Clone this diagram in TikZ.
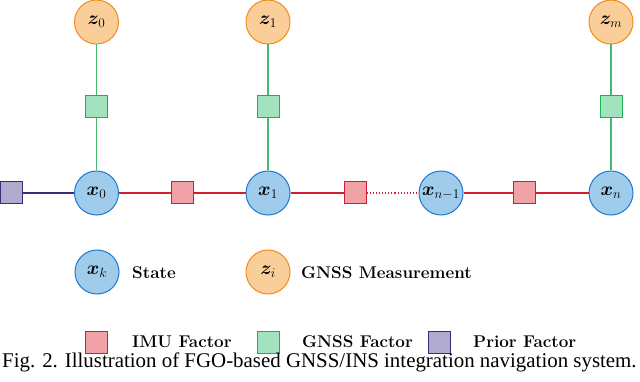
\documentclass[tikz,border=0pt]{standalone}
\usepackage{fix-cm}
\usepackage{amsmath,bm}
\usepackage{fontspec}
\newfontfamily\capfont{Liberation Serif}
\definecolor{stfill}{RGB}{160,204,236}
\definecolor{stdraw}{RGB}{30,120,210}
\definecolor{msfill}{RGB}{250,206,152}
\definecolor{msdraw}{RGB}{240,140,30}
\definecolor{gnfill}{RGB}{162,226,190}
\definecolor{gndraw}{RGB}{30,175,80}
\definecolor{imfill}{RGB}{240,162,166}
\definecolor{imdraw}{RGB}{210,30,50}
\definecolor{prfill}{RGB}{176,170,206}
\definecolor{prdraw}{RGB}{55,45,125}
\tikzset{
  mathlabel/.style={font=\fontsize{19}{19}\selectfont},
  statenode/.style={circle,draw=stdraw,fill=stfill,line width=1pt,minimum size=44pt,inner sep=0pt,mathlabel},
  measnode/.style={circle,draw=msdraw,fill=msfill,line width=1pt,minimum size=44pt,inner sep=0pt,mathlabel},
  gnfac/.style={rectangle,draw=gndraw,fill=gnfill,line width=1pt,minimum size=22pt,inner sep=0pt},
  imfac/.style={rectangle,draw=imdraw,fill=imfill,line width=1pt,minimum size=22pt,inner sep=0pt},
  prfac/.style={rectangle,draw=prdraw,fill=prfill,line width=1pt,minimum size=22pt,inner sep=0pt},
  gnline/.style={draw=gndraw!85!white,line width=1.1pt},
  imline/.style={draw=imdraw,line width=1.1pt},
  prline/.style={draw=prdraw,line width=1.1pt},
  legtext/.style={anchor=west,inner sep=0pt,font=\fontsize{17}{17}\selectfont\bfseries},
}
\begin{document}
\begin{tikzpicture}[x=1pt,y=-1pt]
\useasboundingbox (0,0) rectangle (640,382);
% measurements
\node[measnode] (z0) at (96.5,22) {$\bm{z}_0$};
\node[measnode] (z1) at (268,22) {$\bm{z}_1$};
\node[measnode] (zm) at (611,22) {$\bm{z}_m$};
% states
\node[statenode] (x0) at (96.5,193) {$\bm{x}_0$};
\node[statenode] (x1) at (268,193) {$\bm{x}_1$};
\node[statenode] (xn1) at (441,193) {$\bm{x}_{n-1}$};
\node[statenode] (xn) at (611,193) {$\bm{x}_n$};
% GNSS factors
\node[gnfac] (g0) at (96.5,107) {};
\node[gnfac] (g1) at (268,107) {};
\node[gnfac] (gm) at (611,107) {};
% IMU factors
\node[imfac] (i0) at (182,193) {};
\node[imfac] (i1) at (355,193) {};
\node[imfac] (i2) at (524,193) {};
% prior
\node[prfac] (p0) at (11,193) {};
% connections
\draw[gnline] (z0) -- (g0) -- (x0);
\draw[gnline] (z1) -- (g1) -- (x1);
\draw[gnline] (zm) -- (gm) -- (xn);
\draw[prline] (p0) -- (x0);
\draw[imline] (x0) -- (i0) -- (x1) -- (i1);
\draw[imline,dotted] (i1) -- (xn1);
\draw[imline] (xn1) -- (i2) -- (xn);
% legend
\node[statenode] (lx) at (97,272) {$\bm{x}_k$};
\node[legtext] (lxt) at (132,273) {State};
\node[measnode] (lz) at (268,272) {$\bm{z}_i$};
\node[legtext] (lzt) at (301,273) {GNSS Measurement};
\node[imfac] (li) at (96.5,342) {};
\node[legtext] (lit) at (132,342) {IMU Factor};
\node[gnfac] (lg) at (268.5,342) {};
\node[legtext] (lgt) at (302,342) {GNSS Factor};
\node[prfac] (lp) at (439.5,342) {};
\node[legtext] (lpt) at (473,342) {Prior Factor};
% caption
\node[anchor=base west,inner sep=0pt,font=\capfont\fontsize{20.9}{20.9}\selectfont] (cap) at (2,367) {Fig. 2. Illustration of FGO-based GNSS/INS integration navigation system.};
\end{tikzpicture}
\end{document}
